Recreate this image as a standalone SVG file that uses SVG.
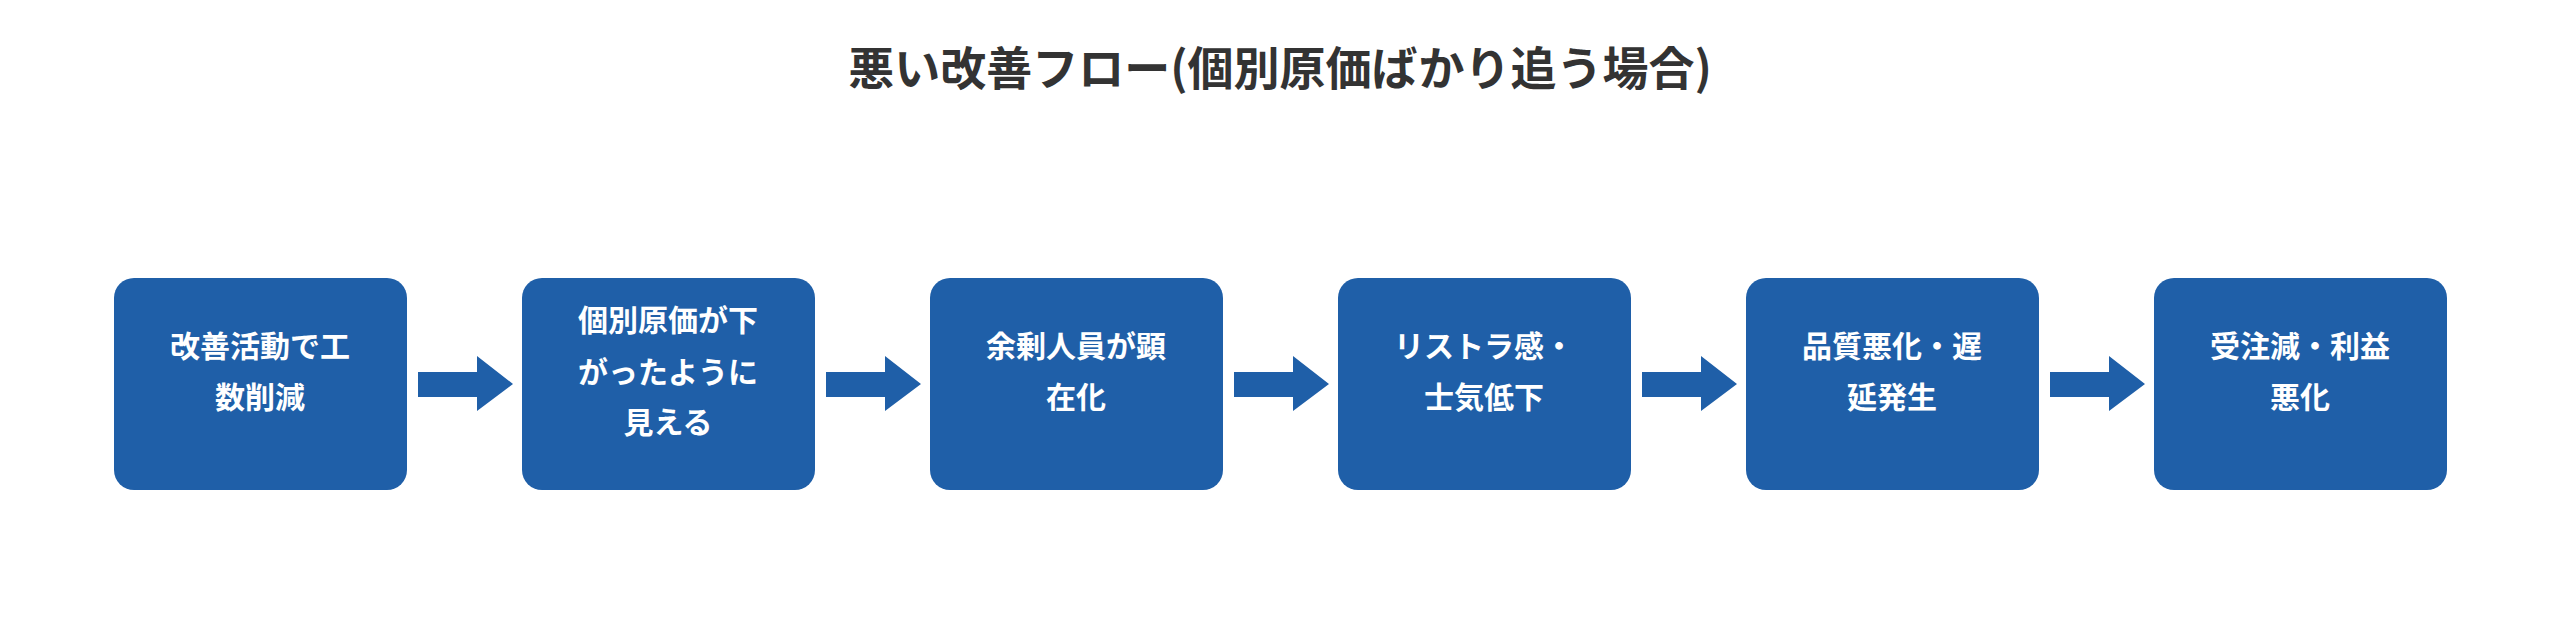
<svg xmlns="http://www.w3.org/2000/svg" width="2560" height="636" viewBox="0 0 2560 636">
<style>
.box{fill:#1f5fa8}
.t{font-family:"Noto Sans CJK JP","Noto Sans",sans-serif;font-size:30px;font-weight:bold;fill:#fff;text-anchor:middle}
.title{font-family:"Noto Sans CJK JP","Noto Sans",sans-serif;font-size:46px;font-weight:bold;fill:#333;text-anchor:middle}
.arr{fill:#1f5fa8}
</style>
<rect width="2560" height="636" fill="#fff"/>
<text class="title" x="1280" y="85">悪い改善フロー(個別原価ばかり追う場合)</text>
<g id="n1"><rect class="box" x="114" y="278" width="293" height="212" rx="20"/><text class="t" x="260" y="357">改善活動で工</text><text class="t" x="260" y="408">数削減</text></g>
<g id="n2"><rect class="box" x="522" y="278" width="293" height="212" rx="20"/><text class="t" x="668" y="331">個別原価が下</text><text class="t" x="668" y="383">がったように</text><text class="t" x="668" y="433">見える</text></g>
<g id="n3"><rect class="box" x="930" y="278" width="293" height="212" rx="20"/><text class="t" x="1076" y="357">余剰人員が顕</text><text class="t" x="1076" y="408">在化</text></g>
<g id="n4"><rect class="box" x="1338" y="278" width="293" height="212" rx="20"/><text class="t" x="1484" y="357">リストラ感・</text><text class="t" x="1484" y="408">士気低下</text></g>
<g id="n5"><rect class="box" x="1746" y="278" width="293" height="212" rx="20"/><text class="t" x="1892" y="357">品質悪化・遅</text><text class="t" x="1892" y="408">延発生</text></g>
<g id="n6"><rect class="box" x="2154" y="278" width="293" height="212" rx="20"/><text class="t" x="2300" y="357">受注減・利益</text><text class="t" x="2300" y="408">悪化</text></g>
<g id="connectors">
<polygon class="arr" points="418,372 477,372 477,356 513,384 477,411 477,397 418,397"/>
<polygon class="arr" transform="translate(408,0)" points="418,372 477,372 477,356 513,384 477,411 477,397 418,397"/>
<polygon class="arr" transform="translate(816,0)" points="418,372 477,372 477,356 513,384 477,411 477,397 418,397"/>
<polygon class="arr" transform="translate(1224,0)" points="418,372 477,372 477,356 513,384 477,411 477,397 418,397"/>
<polygon class="arr" transform="translate(1632,0)" points="418,372 477,372 477,356 513,384 477,411 477,397 418,397"/>
</g>
</svg>
